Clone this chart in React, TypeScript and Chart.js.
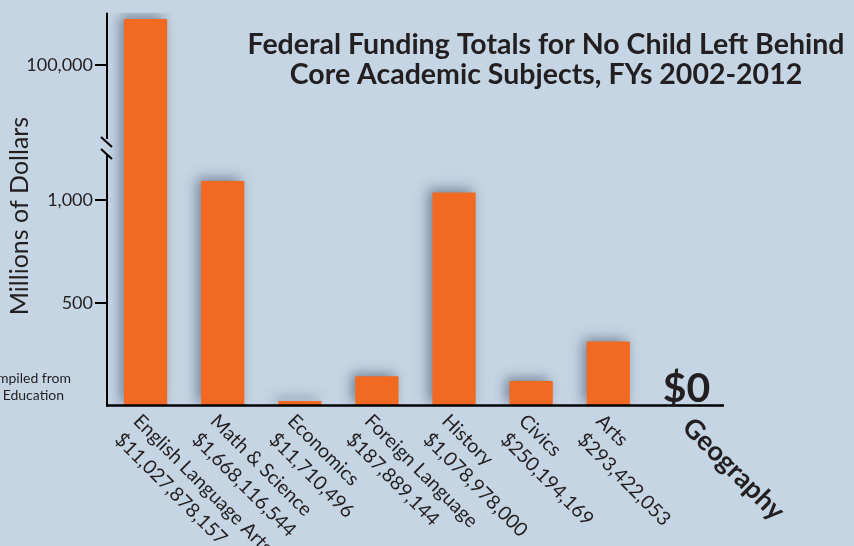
import React, { useEffect, useRef } from "react";
import { Chart, registerables, LinearScale } from "chart.js";

Chart.register(...registerables);

// ---------- data ----------
const CATEGORIES = [
  "English Language Arts",
  "Math & Science",
  "Economics",
  "Foreign Language",
  "History",
  "Civics",
  "Arts",
  "Geography",
];
const AMOUNT_LABELS = [
  "$11,027,878,157",
  "$1,668,116,544",
  "$11,710,496",
  "$187,889,144",
  "$1,078,978,000",
  "$250,194,169",
  "$293,422,053",
  "",
];
// bar heights as drawn on the (broken) millions-of-dollars axis
const BAR_VALUES = [133000, 1095, 22, 143, 1039, 119, 312, 0];
const Y_TICKS = [500, 1000, 100000];
const ZERO_LABEL = "$0";
const TITLE_LINES = [
  "Federal Funding Totals for No Child Left Behind",
  "Core Academic Subjects, FYs 2002-2012",
];
const Y_TITLE = "Millions of Dollars";
const SOURCE_LINES = ["Compiled from", "Dept. of Education"];

// broken axis: value stops and the share of axis height they map to
const BREAK_VALUES = [0, 1150, 50000, 137500];
const BREAK_FRACTIONS = [0, 0.6005, 0.6915, 1];

// ---------- styles ----------
const BG = "#c5d5e4";
const BAR_COLOR = "#f26922";
const INK = "#231f20";
const FONT = "Lato, 'Open Sans', sans-serif";

class BrokenLinearScale extends LinearScale {
  static id = "brokenLinear";
  static defaults = (LinearScale as any).defaults;

  determineDataLimits() {
    (this as any).min = BREAK_VALUES[0];
    (this as any).max = BREAK_VALUES[BREAK_VALUES.length - 1];
  }

  buildTicks() {
    return Y_TICKS.map((v) => ({ value: v }));
  }

  getPixelForValue(value: number) {
    let v = Number(value);
    if (!isFinite(v)) v = 0;
    const last = BREAK_VALUES.length - 1;
    v = Math.max(BREAK_VALUES[0], Math.min(v, BREAK_VALUES[last]));
    for (let i = 1; i <= last; i++) {
      if (v <= BREAK_VALUES[i]) {
        const t = (v - BREAK_VALUES[i - 1]) / (BREAK_VALUES[i] - BREAK_VALUES[i - 1]);
        const d = BREAK_FRACTIONS[i - 1] + t * (BREAK_FRACTIONS[i] - BREAK_FRACTIONS[i - 1]);
        return (this as any).getPixelForDecimal(d);
      }
    }
    return (this as any).getPixelForDecimal(1);
  }

  getValueForPixel(pixel: number) {
    const d = (this as any).getDecimalForPixel(pixel);
    const last = BREAK_FRACTIONS.length - 1;
    for (let i = 1; i <= last; i++) {
      if (d <= BREAK_FRACTIONS[i]) {
        const t = (d - BREAK_FRACTIONS[i - 1]) / (BREAK_FRACTIONS[i] - BREAK_FRACTIONS[i - 1]);
        return BREAK_VALUES[i - 1] + t * (BREAK_VALUES[i] - BREAK_VALUES[i - 1]);
      }
    }
    return BREAK_VALUES[last];
  }
}
Chart.register(BrokenLinearScale as any);

const shadowPlugin = {
  id: "barShadow",
  beforeDatasetsDraw(chart: any) {
    const ctx = chart.ctx;
    ctx.save();
    ctx.shadowColor = "rgba(40,50,70,0.5)";
    ctx.shadowBlur = 12;
    ctx.shadowOffsetX = -4;
    ctx.shadowOffsetY = -3;
  },
  afterDatasetsDraw(chart: any) {
    chart.ctx.restore();
  },
};

const decorPlugin = {
  id: "decor",
  afterDraw(chart: any) {
    const ctx = chart.ctx;
    const area = chart.chartArea;
    const xs = chart.scales.x;
    ctx.save();

    // axes
    ctx.strokeStyle = "#000";
    ctx.lineCap = "butt";
    ctx.lineWidth = 2;
    const ax = area.left;
    ctx.beginPath();
    ctx.moveTo(ax, area.top);
    ctx.lineTo(ax, 139);
    ctx.moveTo(ax, 155);
    ctx.lineTo(ax, area.bottom + 1);
    // break marks
    ctx.moveTo(ax - 6, 137);
    ctx.lineTo(ax + 5, 147);
    ctx.moveTo(ax - 6, 149);
    ctx.lineTo(ax + 5, 159);
    ctx.stroke();

    ctx.lineWidth = 2.5;
    ctx.beginPath();
    ctx.moveTo(area.left - 1, area.bottom);
    ctx.lineTo(area.right, area.bottom);
    ctx.stroke();

    // category labels, rotated 45 degrees clockwise
    ctx.fillStyle = INK;
    CATEGORIES.forEach((name, i) => {
      const x = xs.getPixelForValue(i);
      const amount = AMOUNT_LABELS[i];
      ctx.save();
      ctx.textAlign = "left";
      ctx.textBaseline = "top";
      if (BAR_VALUES[i] === 0) {
        ctx.translate(x + 11, 413);
        ctx.rotate(Math.PI / 4);
        ctx.font = `bold 27px ${FONT}`;
        ctx.fillText(name, 0, 0);
      } else {
        ctx.translate(x - 2, 411);
        ctx.rotate(Math.PI / 4);
        ctx.font = `19.5px ${FONT}`;
        ctx.fillText(name, 0, 0);
        ctx.fillText(amount, 0, 26);
      }
      ctx.restore();
      if (BAR_VALUES[i] === 0) {
        ctx.font = `bold 41px ${FONT}`;
        ctx.textAlign = "center";
        ctx.textBaseline = "alphabetic";
        ctx.fillText(ZERO_LABEL, x + 1, 402);
      }
    });

    // title
    ctx.font = `bold 28.5px ${FONT}`;
    ctx.textAlign = "center";
    ctx.textBaseline = "alphabetic";
    ctx.fillText(TITLE_LINES[0], 546, 54);
    ctx.fillText(TITLE_LINES[1], 546, 84);

    // y title
    ctx.save();
    ctx.translate(28, 216);
    ctx.rotate(-Math.PI / 2);
    ctx.font = `25px ${FONT}`;
    ctx.textAlign = "center";
    ctx.textBaseline = "alphabetic";
    ctx.fillText(Y_TITLE, 0, 0);
    ctx.restore();

    // source note (partly cut off at the left edge)
    ctx.font = `14px ${FONT}`;
    ctx.textAlign = "right";
    ctx.fillText(SOURCE_LINES[0], 71, 383);
    ctx.fillText(SOURCE_LINES[1], 64, 400);

    ctx.restore();
  },
};

export default function App() {
  const ref = useRef<HTMLCanvasElement | null>(null);

  useEffect(() => {
    document.body.style.margin = "0";
    const canvas = ref.current;
    if (!canvas) return;
    const chart = new Chart(canvas, {
      type: "bar",
      data: {
        labels: CATEGORIES,
        datasets: [
          {
            data: BAR_VALUES,
            backgroundColor: BAR_COLOR,
            borderWidth: 0,
            barPercentage: 0.56,
            categoryPercentage: 1,
          },
        ],
      },
      options: {
        responsive: false,
        animation: false,
        devicePixelRatio: 1,
        layout: { padding: { left: 0, top: 10, right: 130, bottom: 140.5 } },
        plugins: {
          legend: { display: false },
          tooltip: { enabled: false },
          title: { display: false },
        },
        scales: {
          x: {
            type: "category",
            offset: true,
            grid: { display: false },
            border: { display: false },
            ticks: { display: false },
            afterFit: (s: any) => {
              s.height = 0;
            },
          },
          y: {
            type: "brokenLinear" as any,
            position: "left",
            grid: {
              display: true,
              drawOnChartArea: false,
              drawTicks: true,
              tickLength: 12,
              color: "#000",
              lineWidth: 2,
            },
            border: { display: false },
            ticks: {
              padding: 2,
              color: INK,
              font: { family: FONT, size: 18 },
              autoSkip: false,
              callback: (v: any) => Number(v).toLocaleString("en-US"),
            },
            afterFit: (s: any) => {
              s.width = 107;
            },
          },
        } as any,
      },
      plugins: [shadowPlugin, decorPlugin],
    });
    return () => chart.destroy();
  }, []);

  return (
    <div
      style={{
        position: "absolute",
        left: 0,
        top: 0,
        width: 854,
        height: 546,
        background: BG,
        overflow: "hidden",
      }}
    >
      <canvas ref={ref} width={854} height={546} style={{ display: "block" }} />
    </div>
  );
}
